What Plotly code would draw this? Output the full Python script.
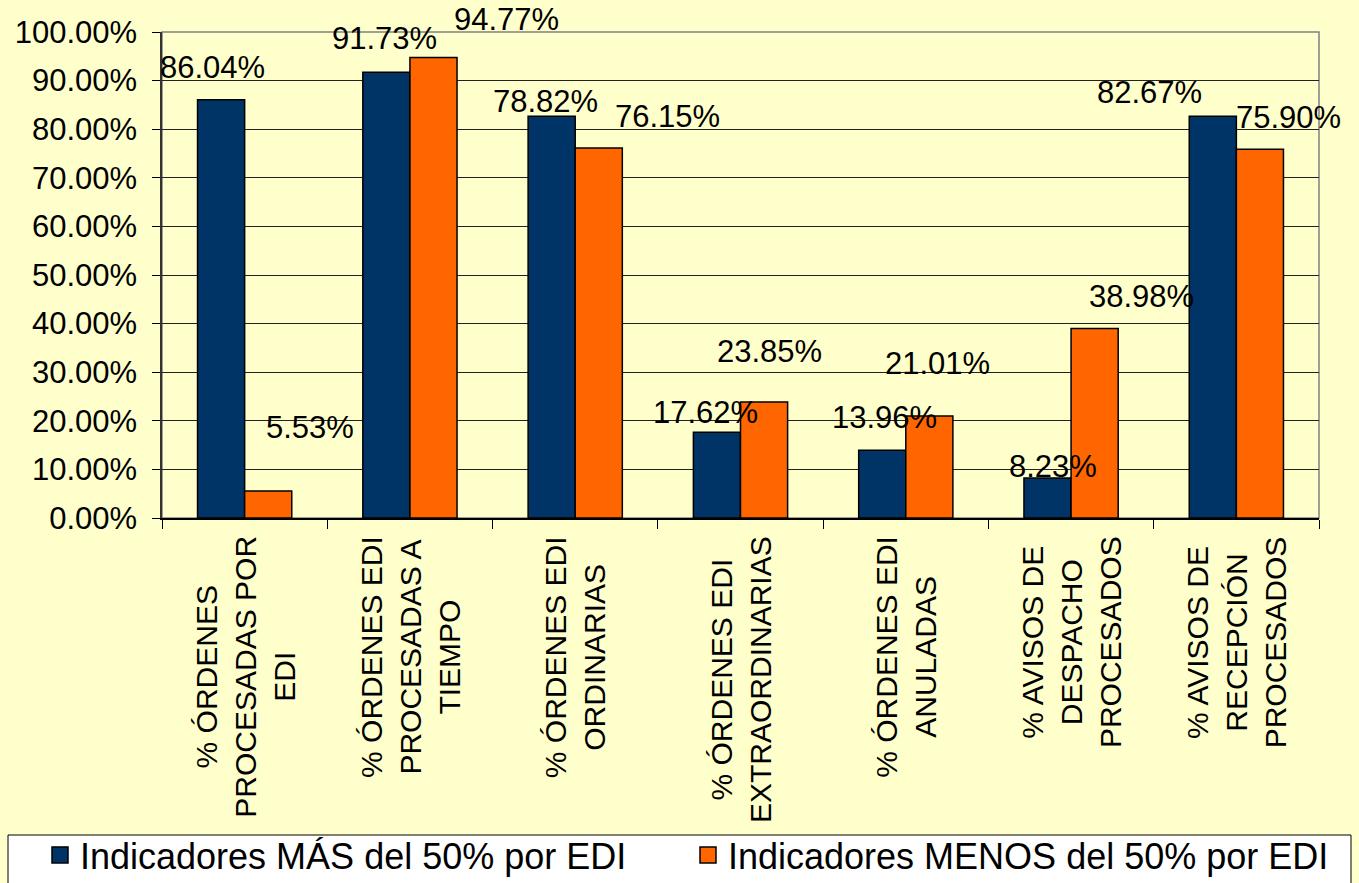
import plotly.graph_objects as go

categories = [
    "% ÓRDENES<br>PROCESADAS POR<br>EDI",
    "% ÓRDENES EDI<br>PROCESADAS A<br>TIEMPO",
    "% ÓRDENES EDI<br>ORDINARIAS",
    "% ÓRDENES EDI<br>EXTRAORDINARIAS",
    "% ÓRDENES EDI<br>ANULADAS",
    "% AVISOS DE<br>DESPACHO<br>PROCESADOS",
    "% AVISOS DE<br>RECEPCIÓN<br>PROCESADOS",
]
series_names = ["Indicadores MÁS del 50% por EDI", "Indicadores MENOS del 50% por EDI"]

# bar heights (percent)
mas_values = [86.04, 91.73, 82.67, 17.62, 13.96, 8.23, 82.67]
menos_values = [5.53, 94.77, 76.15, 23.85, 21.01, 38.98, 75.90]

# data-label texts as printed on the chart
mas_labels = ["86.04%", "91.73%", "78.82%", "17.62%", "13.96%", "8.23%", "82.67%"]
menos_labels = ["5.53%", "94.77%", "76.15%", "23.85%", "21.01%", "38.98%", "75.90%"]

y_ticks = [0, 10, 20, 30, 40, 50, 60, 70, 80, 90, 100]

# label placement (pixel offsets from category centre / bar top)
mas_dx = [-32, -25, -30, -35, -21, -18, -87]
mas_dy = [32, 34, 15, 20, 33, 12, 24]
menos_dx = [65, 97, 92, 29, 32, 70, 52]
menos_dy = [64, 38, 31, 51, 52, 32, 32]

NAVY = "#003366"
ORANGE = "#FF6600"
BG = "#FFFFCC"
FONT = "Liberation Sans, Arial, sans-serif"

W, H = 1359, 883
L, R, T, B = 162, 40, 32, 365
PW, PH = W - L - R, H - T - B

fig = go.Figure()
fig.add_trace(go.Bar(x=categories, y=mas_values, name=series_names[0],
                     marker=dict(color=NAVY, line=dict(color="black", width=1.5)),
                     showlegend=False))
fig.add_trace(go.Bar(x=categories, y=menos_values, name=series_names[1],
                     marker=dict(color=ORANGE, line=dict(color="black", width=1.5)),
                     showlegend=False))
# legend proxies (one legend box per entry so the spacing matches)
for nm, col, lg in zip(series_names, [NAVY, ORANGE], ["legend", "legend2"]):
    fig.add_trace(go.Scatter(x=[None], y=[None], mode="markers", name=nm, legend=lg,
                             marker=dict(symbol="square", size=16, color=col,
                                         line=dict(color="black", width=1.5))))

annotations = []
for cat, v, t, dx, dy in zip(categories, mas_values, mas_labels, mas_dx, mas_dy):
    annotations.append(dict(x=cat, y=v, xref="x", yref="y", text=t, showarrow=False,
                            xshift=dx, yshift=dy, xanchor="center", yanchor="middle",
                            font=dict(size=31, color="black", family=FONT)))
for cat, v, t, dx, dy in zip(categories, menos_values, menos_labels, menos_dx, menos_dy):
    annotations.append(dict(x=cat, y=v, xref="x", yref="y", text=t, showarrow=False,
                            xshift=dx, yshift=dy, xanchor="center", yanchor="middle",
                            font=dict(size=31, color="black", family=FONT)))
# category labels (rotated, centred lines)
for cat in categories:
    annotations.append(dict(x=cat, y=0, xref="x", yref="y", text=cat, showarrow=False,
                            textangle=-90, align="center", xanchor="center", yanchor="top",
                            yshift=-16, font=dict(size=30, color="black", family=FONT)))

legend_common = dict(orientation="h", xref="container", yref="container",
                     xanchor="left", y=1 - 825 / H, yanchor="top",
                     bgcolor="rgba(0,0,0,0)", borderwidth=0,
                     font=dict(size=36, family=FONT, color="black"), itemclick=False)

fig.update_layout(
    width=W, height=H,
    margin=dict(l=L, r=R, t=T, b=B, autoexpand=False),
    paper_bgcolor=BG, plot_bgcolor=BG,
    font=dict(family=FONT, color="black"),
    barmode="group", bargap=0.43, bargroupgap=0,
    annotations=annotations,
    legend=dict(x=40 / W, **legend_common),
    legend2=dict(x=688 / W, **legend_common),
    shapes=[
        dict(type="rect", xref="x domain", yref="y domain", x0=0, x1=1, y0=0, y1=1,
             line=dict(color="#808080", width=1.5), layer="below"),
        # legend frame
        dict(type="rect", xref="paper", yref="paper",
             x0=(8 - L) / PW, x1=(1351 - L) / PW,
             y0=(H - B - 900) / PH, y1=(H - B - 835) / PH,
             fillcolor="white", line=dict(color="black", width=1), layer="above"),
    ],
)
fig.update_xaxes(range=[-0.5, 6.5], showticklabels=False, showline=True, linecolor="black",
                 linewidth=1.5, ticks="outside", tickson="boundaries", ticklen=9,
                 tickcolor="black", showgrid=False, fixedrange=True)
fig.update_yaxes(range=[0, 100], tickvals=y_ticks, ticktext=[f"{v:.2f}%" for v in y_ticks],
                 showline=True, linecolor="#333333", linewidth=1.5,
                 ticks="outside", ticklen=8, tickcolor="black", ticklabelstandoff=9,
                 showgrid=True, gridcolor="#222222", gridwidth=1, zeroline=False,
                 tickfont=dict(size=31, family=FONT, color="black"), fixedrange=True)

fig.write_html("out.html", config={"displayModeBar": False},
               post_script="document.body.style.margin='0';document.body.style.overflow='hidden';")
